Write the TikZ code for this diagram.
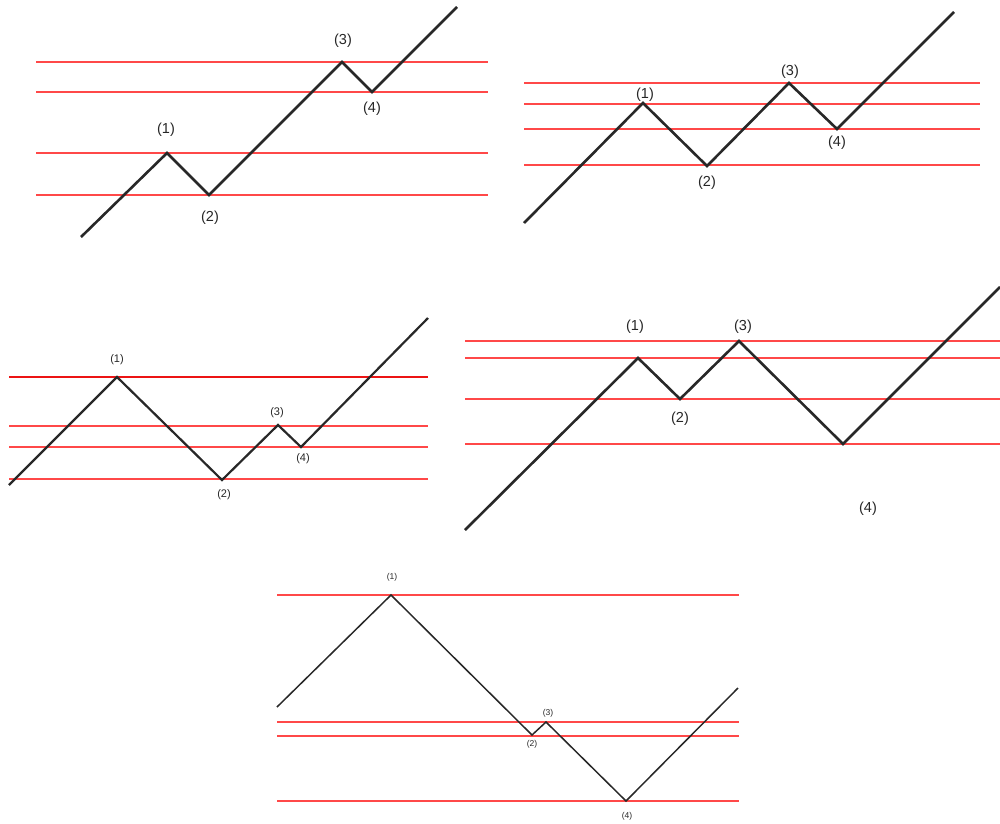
\documentclass[tikz,border=0pt]{standalone}
\usepackage{fontspec}
\setmainfont{Liberation Sans}
\definecolor{lvl}{RGB}{255,72,72}
\definecolor{lvlstrong}{RGB}{236,20,20}
\definecolor{price}{RGB}{40,40,40}
\begin{document}
\begin{tikzpicture}[x=1pt,y=-1pt,
  srline/.style={draw=lvl,line width=2.5pt},
  srstrong/.style={draw=lvlstrong,line width=2.3pt},
  wave/.style={draw=price,line width=2.6pt,line join=miter},
  lbl/.style={inner sep=0pt,text=black!85,font=\fontsize{14.5}{16}\selectfont},
  lblm/.style={lbl,font=\fontsize{11}{13}\selectfont},
  lbls/.style={lbl,font=\fontsize{8.5}{10}\selectfont}]
\useasboundingbox (0,0) rectangle (1000,823);

% ---------- Panel 1 ----------
\foreach \n/\y in {1/62,2/92,3/153,4/195}{
  \coordinate (aL\n) at (36,\y); \coordinate (aR\n) at (488,\y);
  \draw[srline] (aL\n) -- (aR\n);}
\coordinate (a0) at (81,237);
\coordinate (a1) at (167,153);
\coordinate (a2) at (209,195);
\coordinate (a3) at (342,62);
\coordinate (a4) at (372,92);
\coordinate (a5) at (457,7);
\draw[wave] (a0) -- (a1) -- (a2) -- (a3) -- (a4) -- (a5);
\node[lbl] (at1) at (166,130) {(1)};
\node[lbl] (at2) at (210,218) {(2)};
\node[lbl] (at3) at (343,41) {(3)};
\node[lbl] (at4) at (372,109) {(4)};

% ---------- Panel 2 ----------
\foreach \n/\y in {1/83,2/104,3/129,4/165}{
  \coordinate (bL\n) at (524,\y); \coordinate (bR\n) at (980,\y);
  \draw[srline] (bL\n) -- (bR\n);}
\coordinate (b0) at (524,223);
\coordinate (b1) at (643,103);
\coordinate (b2) at (707,166);
\coordinate (b3) at (789,83);
\coordinate (b4) at (837,129);
\coordinate (b5) at (954,12);
\draw[wave] (b0) -- (b1) -- (b2) -- (b3) -- (b4) -- (b5);
\node[lbl] (bt1) at (645,95) {(1)};
\node[lbl] (bt2) at (707,183) {(2)};
\node[lbl] (bt3) at (790,72) {(3)};
\node[lbl] (bt4) at (837,143) {(4)};

% ---------- Panel 3 ----------
\coordinate (cL1) at (9,377); \coordinate (cR1) at (428,377);
\draw[srstrong] (cL1) -- (cR1);
\foreach \n/\y in {2/426,3/447,4/479}{
  \coordinate (cL\n) at (9,\y); \coordinate (cR\n) at (428,\y);
  \draw[srline,line width=2.1pt] (cL\n) -- (cR\n);}
\coordinate (c0) at (9,485);
\coordinate (c1) at (117,377);
\coordinate (c2) at (222,480);
\coordinate (c3) at (278,425);
\coordinate (c4) at (301,447);
\coordinate (c5) at (428,318);
\draw[wave,line width=2.2pt] (c0) -- (c1) -- (c2) -- (c3) -- (c4) -- (c5);
\node[lblm] (ct1) at (117,360) {(1)};
\node[lblm] (ct2) at (224,495) {(2)};
\node[lblm] (ct3) at (277,413) {(3)};
\node[lblm] (ct4) at (303,459) {(4)};

% ---------- Panel 4 ----------
\foreach \n/\y in {1/341,2/358,3/399,4/444}{
  \coordinate (dL\n) at (465,\y); \coordinate (dR\n) at (1000,\y);
  \draw[srline] (dL\n) -- (dR\n);}
\coordinate (d0) at (465,530);
\coordinate (d1) at (638,358);
\coordinate (d2) at (680,399);
\coordinate (d3) at (739,341);
\coordinate (d4) at (843,444);
\coordinate (d5) at (1000,287);
\draw[wave] (d0) -- (d1) -- (d2) -- (d3) -- (d4) -- (d5);
\node[lbl] (dt1) at (635,327) {(1)};
\node[lbl] (dt2) at (680,419) {(2)};
\node[lbl] (dt3) at (743,327) {(3)};
\node[lbl] (dt4) at (868,509) {(4)};

% ---------- Panel 5 ----------
\foreach \n/\y in {1/595,2/722,3/736,4/801}{
  \coordinate (eL\n) at (277,\y); \coordinate (eR\n) at (739,\y);
  \draw[srline,line width=1.5pt] (eL\n) -- (eR\n);}
\coordinate (e0) at (277,707);
\coordinate (e1) at (391,595);
\coordinate (e2) at (532,735);
\coordinate (e3) at (546,722);
\coordinate (e4) at (626,801);
\coordinate (e5) at (738,688);
\draw[wave,line width=1.5pt] (e0) -- (e1) -- (e2) -- (e3) -- (e4) -- (e5);
\node[lbls] (et1) at (392,577) {(1)};
\node[lbls] (et2) at (532,744) {(2)};
\node[lbls] (et3) at (548,713) {(3)};
\node[lbls] (et4) at (627,816) {(4)};
\end{tikzpicture}
\end{document}
